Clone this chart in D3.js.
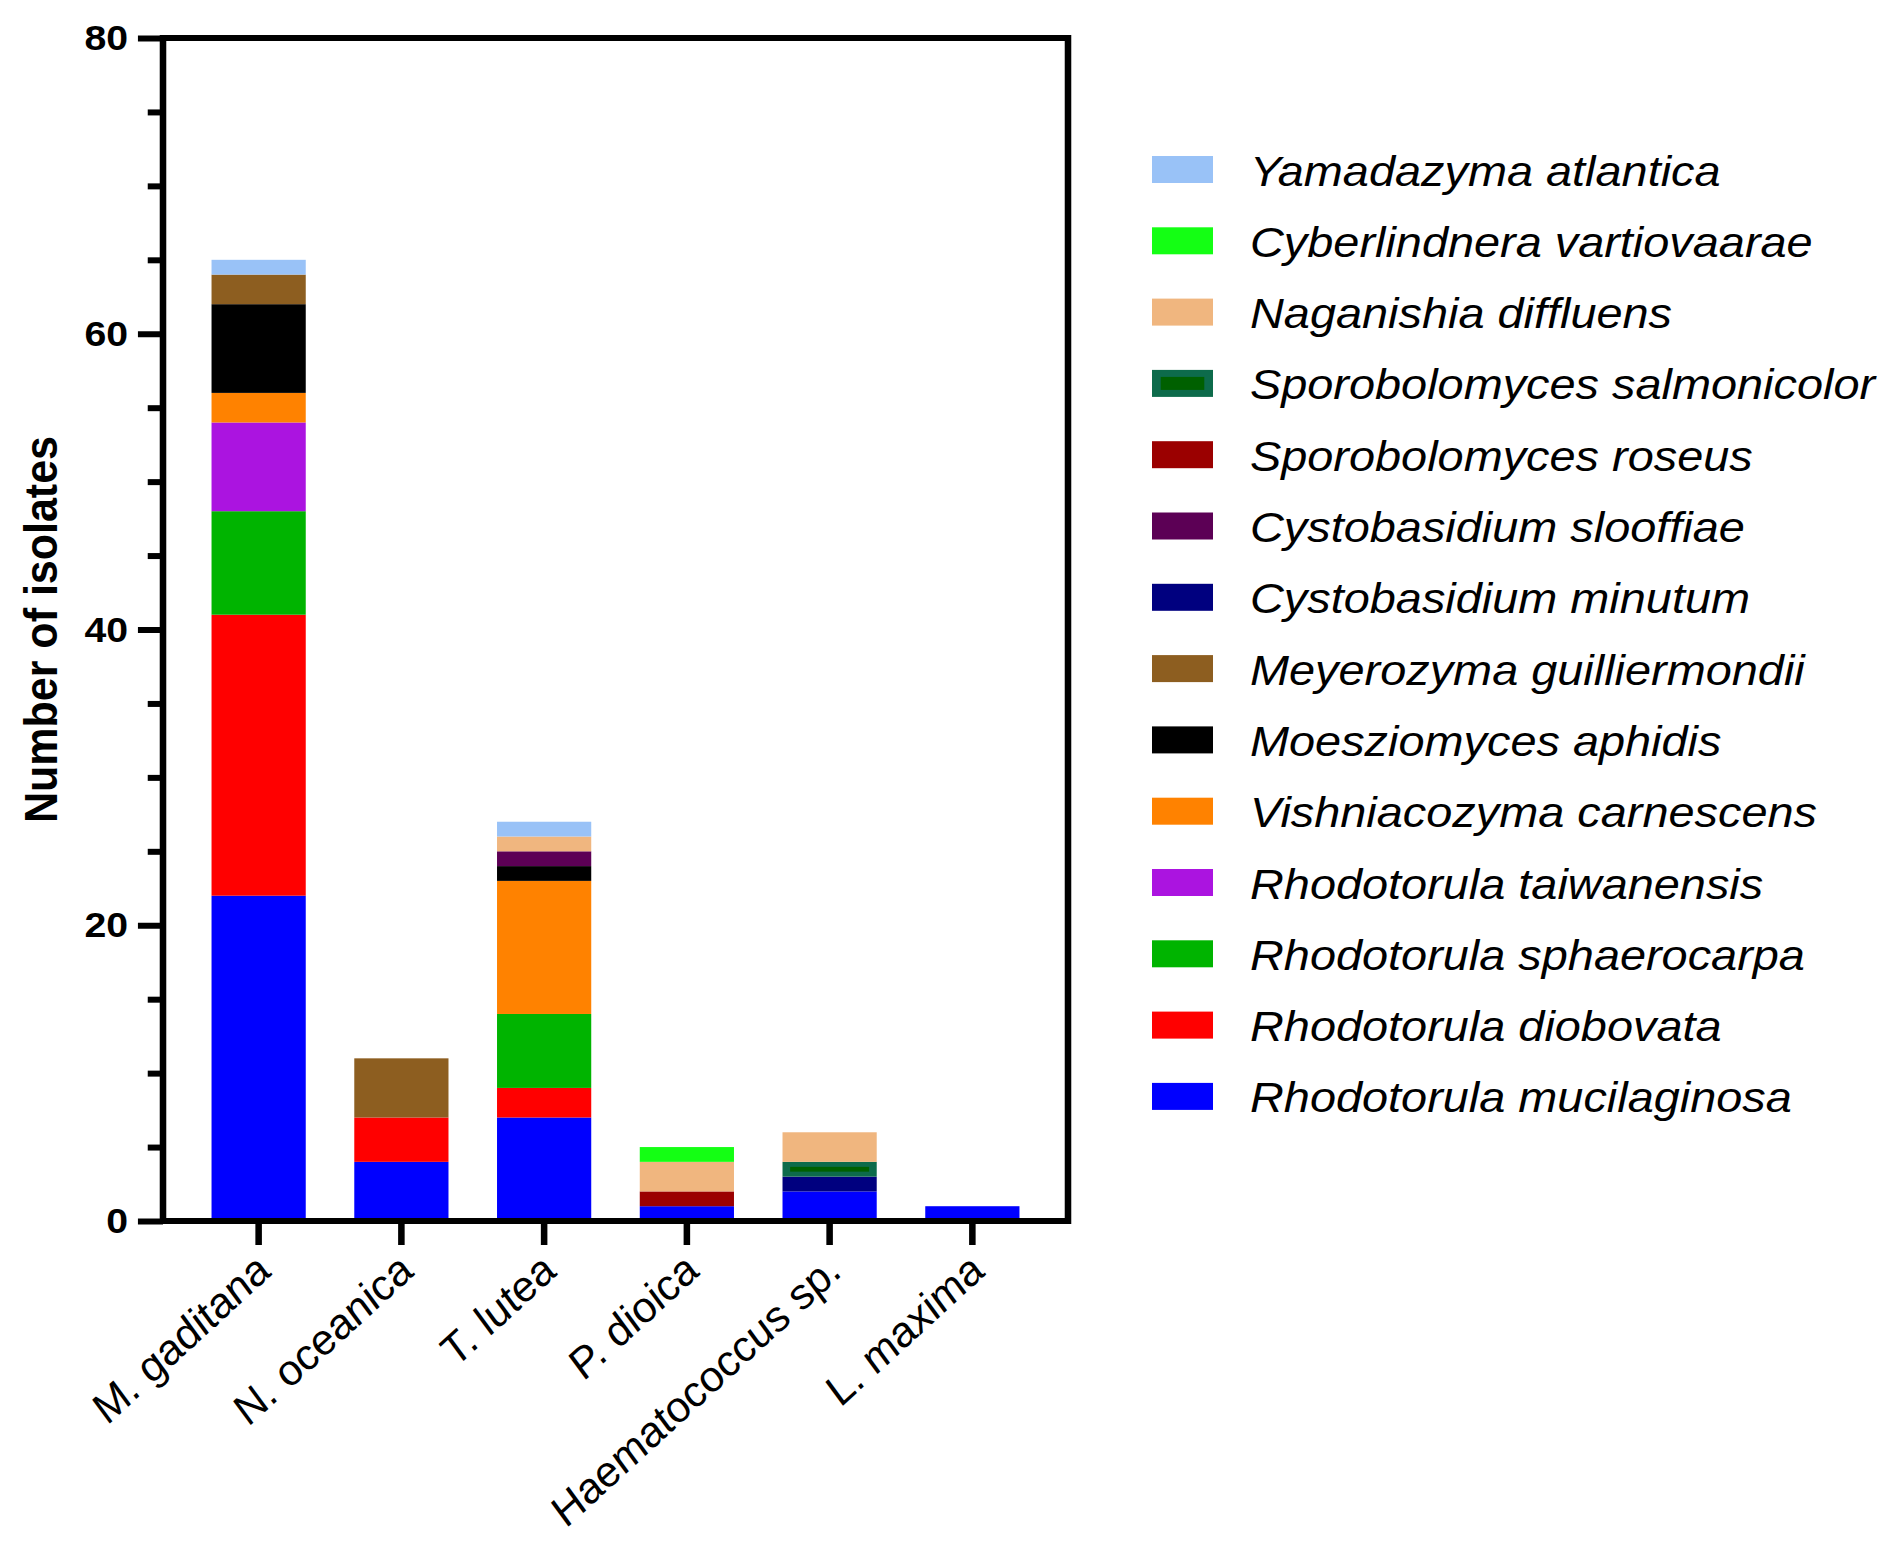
<!DOCTYPE html>
<html>
<head>
<meta charset="utf-8">
<script src="https://cdn.jsdelivr.net/npm/d3@7"></script>
<style>
	body { margin: 0; background: #fff; }
	svg { display: block; }
</style>
</head>
<body>
<div id="chart"></div>
<script>
"use strict";

//---- Data (stack order, bottom to top)
const hosts = ['M. gaditana', 'N. oceanica', 'T. lutea', 'P. dioica', 'Haematococcus sp.', 'L. maxima'];

const species = [
	'Rhodotorula mucilaginosa',
	'Rhodotorula diobovata',
	'Rhodotorula sphaerocarpa',
	'Rhodotorula taiwanensis',
	'Vishniacozyma carnescens',
	'Moesziomyces aphidis',
	'Meyerozyma guilliermondii',
	'Cystobasidium minutum',
	'Cystobasidium slooffiae',
	'Sporobolomyces roseus',
	'Sporobolomyces salmonicolor',
	'Naganishia diffluens',
	'Cyberlindnera vartiovaarae',
	'Yamadazyma atlantica'
];

const colors = ['#0000ff', '#ff0000', '#00b400', '#ab14e0', '#ff8200', '#000000', '#8d5e20',
	'#00007f', '#5c0055', '#9b0000', '#0d6b4b', '#f0b67f', '#14ff14', '#99c2f7'];
const innerColors = {'Sporobolomyces salmonicolor': '#006000'};

// isolate counts per host, in species order
const mGaditana      = [22, 19, 7, 6, 2, 6, 2, 0, 0, 0, 0, 0, 0, 1];
const nOceanica      = [ 4,  3, 0, 0, 0, 0, 4, 0, 0, 0, 0, 0, 0, 0];
const tLutea         = [ 7,  2, 5, 0, 9, 1, 0, 0, 1, 0, 0, 1, 0, 1];
const pDioica        = [ 1,  0, 0, 0, 0, 0, 0, 0, 0, 1, 0, 2, 1, 0];
const haematococcus  = [ 2,  0, 0, 0, 0, 0, 0, 1, 0, 0, 1, 2, 0, 0];
const lMaxima        = [ 1,  0, 0, 0, 0, 0, 0, 0, 0, 0, 0, 0, 0, 0];

const yTicks = [0, 20, 40, 60, 80];
const yMinorTicks = [5, 10, 15, 25, 30, 35, 45, 50, 55, 65, 70, 75];

//---- Layout
const width = 1900, height = 1557;
const SX = 1.09; // the figure is stretched horizontally
const px = v => v / SX;
const plot = {left: 163, right: 1068, top: 38, bottom: 1221};
const FONT = 'Arial, "Liberation Sans", Helvetica, sans-serif';

const table = [mGaditana, nOceanica, tLutea, pDioica, haematococcus, lMaxima].map((row, i) => {
	const rec = {host: hosts[i]};
	species.forEach((s, j) => rec[s] = row[j]);
	return rec;
});

const svg = d3.select('#chart').append('svg')
	.attr('width', width)
	.attr('height', height)
	.attr('viewBox', [0, 0, width, height]);

const g = svg.append('g').attr('transform', `scale(${SX},1)`);

const x = d3.scaleBand()
	.domain(hosts)
	.range([px(plot.left), px(plot.right)])
	.paddingInner(0.34)
	.paddingOuter(0.34);

const y = d3.scaleLinear()
	.domain([0, 80])
	.range([plot.bottom, plot.top]);

const color = d3.scaleOrdinal().domain(species).range(colors);

const series = d3.stack().keys(species)(table);

//---- Bars
const layers = g.append('g').selectAll('g')
	.data(series)
	.join('g')
	.attr('fill', d => color(d.key));

layers.selectAll('rect')
	.data(d => d.filter(v => v[1] > v[0]))
	.join('rect')
	.attr('x', d => x(d.data.host))
	.attr('y', d => y(d[1]))
	.attr('width', x.bandwidth())
	.attr('height', d => y(d[0]) - y(d[1]));

// inner stripe for the patterned series
layers.filter(d => innerColors[d.key])
	.selectAll('rect.inner')
	.data(d => d.filter(v => v[1] > v[0]).map(v => ({v, c: innerColors[d.key]})))
	.join('rect')
	.classed('inner', true)
	.attr('fill', d => d.c)
	.attr('x', d => x(d.v.data.host) + 7)
	.attr('y', d => y(d.v[1]) + 5)
	.attr('width', x.bandwidth() - 14)
	.attr('height', d => y(d.v[0]) - y(d.v[1]) - 10);

//---- Axes
const axisStroke = 6;

const yAxis = g.append('g')
	.attr('transform', `translate(${px(plot.left)},0)`)
	.call(d3.axisLeft(y).tickValues(yTicks).tickSize(23).tickSizeOuter(0).tickPadding(9).tickFormat(d3.format('d')));

g.append('g')
	.attr('transform', `translate(${px(plot.left)},0)`)
	.call(d3.axisLeft(y).tickValues(yMinorTicks).tickSize(14).tickSizeOuter(0).tickFormat(''))
	.call(a => a.select('.domain').remove())
	.selectAll('line').attr('stroke', '#000').attr('stroke-width', axisStroke);

yAxis.select('.domain').remove();
yAxis.selectAll('line').attr('stroke', '#000').attr('stroke-width', axisStroke);
yAxis.selectAll('text')
	.attr('font-family', FONT)
	.attr('font-size', 36)
	.attr('font-weight', 'bold')
	.attr('fill', '#000');

const xAxis = g.append('g')
	.attr('transform', `translate(0,${plot.bottom})`)
	.call(d3.axisBottom(x).tickSize(24).tickSizeOuter(0));

xAxis.select('.domain').remove();
xAxis.selectAll('line').attr('stroke', '#000').attr('stroke-width', axisStroke);
xAxis.selectAll('text')
	.attr('font-family', FONT)
	.attr('font-size', 41)
	.attr('font-style', 'italic')
	.attr('fill', '#000')
	.attr('text-anchor', 'end')
	.attr('dy', null)
	.attr('y', null)
	.attr('transform', `translate(14,52) rotate(-45)`);

// frame
g.append('rect')
	.attr('x', px(plot.left))
	.attr('y', plot.top)
	.attr('width', px(plot.right) - px(plot.left))
	.attr('height', plot.bottom - plot.top)
	.attr('fill', 'none')
	.attr('stroke', '#000')
	.attr('stroke-width', axisStroke);

g.append('text')
	.attr('transform', `translate(${px(57)},${(plot.top + plot.bottom) / 2}) rotate(-90)`)
	.attr('text-anchor', 'middle')
	.attr('font-family', FONT)
	.attr('font-size', 43)
	.attr('font-weight', 'bold')
	.text('Number of isolates');

//---- Legend
const legendOrder = species.slice().reverse();
const legend = g.append('g').selectAll('g')
	.data(legendOrder)
	.join('g')
	.attr('transform', (d, i) => `translate(${px(1152)},${169.5 + i * 71.3})`);

legend.append('rect')
	.attr('x', 0)
	.attr('y', -13.5)
	.attr('width', px(1213) - px(1152))
	.attr('height', 27)
	.attr('fill', d => color(d));

legend.filter(d => innerColors[d])
	.append('rect')
	.attr('x', 8)
	.attr('y', -6.5)
	.attr('width', px(1213) - px(1152) - 16)
	.attr('height', 13)
	.attr('fill', d => innerColors[d]);

legend.append('text')
	.attr('x', px(1250) - px(1152))
	.attr('y', 16)
	.attr('font-family', FONT)
	.attr('font-size', 43)
	.attr('font-style', 'italic')
	.attr('fill', '#000')
	.text(d => d);
</script>
</body>
</html>
